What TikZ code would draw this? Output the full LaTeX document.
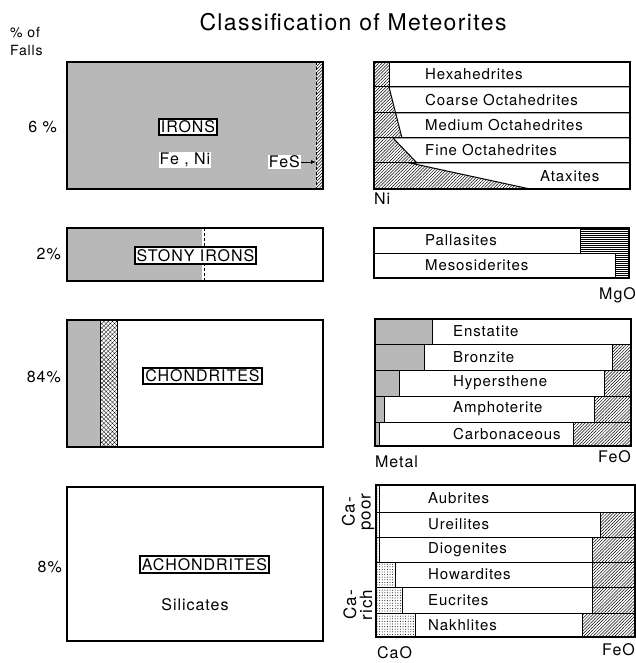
\documentclass[tikz,border=0pt]{standalone}
\usepackage{fontspec}
\setmainfont{TeX Gyre Heros}[LetterSpace=6]
\usetikzlibrary{patterns.meta,arrows.meta}
\newcommand\myfs[1]{\fontsize{#1}{#1}\selectfont}
\begin{document}
\begin{tikzpicture}[x=1pt,y=-1pt,
  stipple/.style={fill=black!28},
  hatch/.style={pattern={Lines[angle=45,distance=2.2pt,line width=0.5pt]}},
  xhatch/.style={pattern={Hatch[angle=45,distance=3pt,line width=0.3pt]}},
  hhatch/.style={pattern={Lines[angle=0,distance=2pt,line width=0.6pt]}},
  dotgrid/.style={pattern={Dots[distance=2.6pt,radius=0.5pt]}},
  outer/.style={draw,line width=2.2pt},
  rowbox/.style={draw,line width=1pt,fill=white},
  lbl/.style={font=\myfs{16}, inner sep=1pt},
  axl/.style={font=\myfs{16}, inner sep=0pt},
  tag/.style={draw,line width=2pt,fill=white,inner sep=2pt,font=\myfs{16}},
  rl/.style={font=\myfs{15}, inner sep=0pt, anchor=west}]
\useasboundingbox (0,0) rectangle (636,663);

% title
\node[font=\myfs{23}, inner sep=0pt] (title) at (353,22) {Classification of Meteorites};
\node[font=\myfs{14}, inner sep=0pt, anchor=west] (pct) at (10,33) {\% of};
\node[font=\myfs{14}, inner sep=0pt, anchor=west] (falls) at (10,51) {Falls};

% ---------- left: irons
\fill[stipple] (67,62) rectangle (316,189);
\path[hatch] (316,62) rectangle (323,189);
\draw[densely dashed] (316,62) -- (316,189);
\draw[outer] (67,62) rectangle (323,189);
\node[tag] (irons) at (188,127) {IRONS};
\node[lbl,fill=white] (feni) at (185,160) {Fe , Ni};
\node[lbl,fill=white,anchor=east] (fes) at (301,162) {FeS};
\coordinate (fesend) at (316,162);
\draw[-{Latex[length=5pt,width=4pt]},line width=0.8pt] (fes) -- (fesend);
\node[lbl,anchor=east] (p6) at (58,127) {6 \%};

% ---------- left: stony irons
\fill[stipple] (67,228) rectangle (202,281);
\draw[densely dashed] (204,228) -- (204,281);
\draw[outer] (67,228) rectangle (323,281);
\node[tag] (stony) at (195.5,255.5) {STONY IRONS};
\node[lbl,anchor=east] (p2) at (62,254) {2\%};

% ---------- left: chondrites
\fill[stipple] (67,320) rectangle (100,447);
\path[xhatch] (100,320) rectangle (117,447);
\draw[line width=0.8pt] (100,320) -- (100,447) (117,320) -- (117,447);
\draw[outer] (67,320) rectangle (323,447);
\node[tag] (chond) at (202.5,376) {CHONDRITES};
\node[lbl,anchor=east] (p84) at (62,377) {84\%};

% ---------- left: achondrites
\draw[outer] (67,487) rectangle (323,641);
\node[tag] (achond) at (204.5,564.5) {ACHONDRITES};
\node[lbl] (silic) at (195,605) {Silicates};
\node[lbl,anchor=east] (p8) at (63,567) {8\%};

% ---------- right: irons
\path[hatch] (374,62) rectangle (630,189);
\draw[rowbox] (389,62) rectangle (630,87);
\draw[rowbox] (389,87) -- (630,87) -- (630,113) -- (395.6,113) -- cycle;
\draw[rowbox] (395.6,113) -- (630,113) -- (630,138) -- (402,138) -- cycle;
\draw[rowbox] (393,138) -- (630,138) -- (630,163) -- (417,163) -- cycle;
\draw[rowbox] (410,163) -- (630,163) -- (630,189) -- (530,189) -- cycle;
\draw[line width=1pt] (374,87) -- (630,87) (374,113) -- (630,113) (374,138) -- (630,138) (374,163) -- (630,163);
\draw[outer] (374,62) rectangle (630,189);
\node[rl] (hexa) at (425,74.5) {Hexahedrites};
\node[rl] (coarse) at (425,100) {Coarse Octahedrites};
\node[rl] (medium) at (425,125.5) {Medium Octahedrites};
\node[rl] (fine) at (425,150.5) {Fine Octahedrites};
\node[rl] (atax) at (540,176) {Ataxites};
\node[axl,anchor=west] (ni) at (374,199) {Ni};

% ---------- right: stony irons
\path[hhatch] (374,228) rectangle (629,278);
\draw[rowbox] (374,228) rectangle (580,253);
\draw[rowbox] (374,253) rectangle (615,278);
\draw[outer] (374,228) rectangle (629,278);
\node[rl] (pall) at (425,240.5) {Pallasites};
\node[rl] (meso) at (425,265.5) {Mesosiderites};
\node[axl,anchor=east] (mgo) at (636,295) {MgO};

% ---------- right: chondrites
\foreach \ya/\yb/\mx/\fx in {319/344/432/631, 344/370/424/612, 370/396/399/604, 396/422/384/594, 422/446/379/573}{
  \fill[stipple] (375,\ya) rectangle (\mx,\yb);
  \path[hatch] (\fx,\ya) rectangle (631,\yb);
  \draw[rowbox] (\mx,\ya) rectangle (\fx,\yb);
}
\draw[line width=1pt] (375,344) -- (631,344) (375,370) -- (631,370) (375,396) -- (631,396) (375,422) -- (631,422);
\draw[outer] (375,319) rectangle (631,446);
\node[rl] (enst) at (453,331.5) {Enstatite};
\node[rl] (bron) at (453,357) {Bronzite};
\node[rl] (hyp) at (453,383) {Hypersthene};
\node[rl] (amph) at (453,409) {Amphoterite};
\node[rl] (carb) at (453,434) {Carbonaceous};
\node[axl,anchor=west] (metal) at (375,462) {Metal};
\node[axl,anchor=east] (feo1) at (631,457) {FeO};

% ---------- right: achondrites
\foreach \ya/\yb/\cx/\fx in {485/512/379/635, 512/537/379/600, 537/562/379/592, 562/587/395/592, 587/613/402/592, 613/637/415/582}{
  \path[dotgrid] (376,\ya) rectangle (\cx,\yb);
  \path[hatch] (\fx,\ya) rectangle (635,\yb);
  \draw[rowbox] (\cx,\ya) rectangle (\fx,\yb);
}
\draw[line width=1pt] (376,512) -- (635,512) (376,537) -- (635,537) (376,562) -- (635,562) (376,587) -- (635,587) (376,613) -- (635,613);
\draw[outer] (376,485) rectangle (635,637);
\node[rl] (aub) at (428,498.5) {Aubrites};
\node[rl] (ure) at (428,524.5) {Ureilites};
\node[rl] (dio) at (428,549.5) {Diogenites};
\node[rl] (how) at (428,574.5) {Howardites};
\node[rl] (euc) at (428,600) {Eucrites};
\node[rl] (nak) at (428,625) {Nakhlites};
\node[axl,anchor=west] (cao) at (377,653) {CaO};
\node[axl,anchor=east] (feo2) at (635,650) {FeO};
\node[font=\myfs{17}, inner sep=0pt, rotate=90, align=center] (capoor) at (358,512) {Ca-\\[-1pt]poor};
\node[font=\myfs{17}, inner sep=0pt, rotate=90, align=center] (carich) at (358,605) {Ca-\\[-1pt]rich};
\end{tikzpicture}
\end{document}
